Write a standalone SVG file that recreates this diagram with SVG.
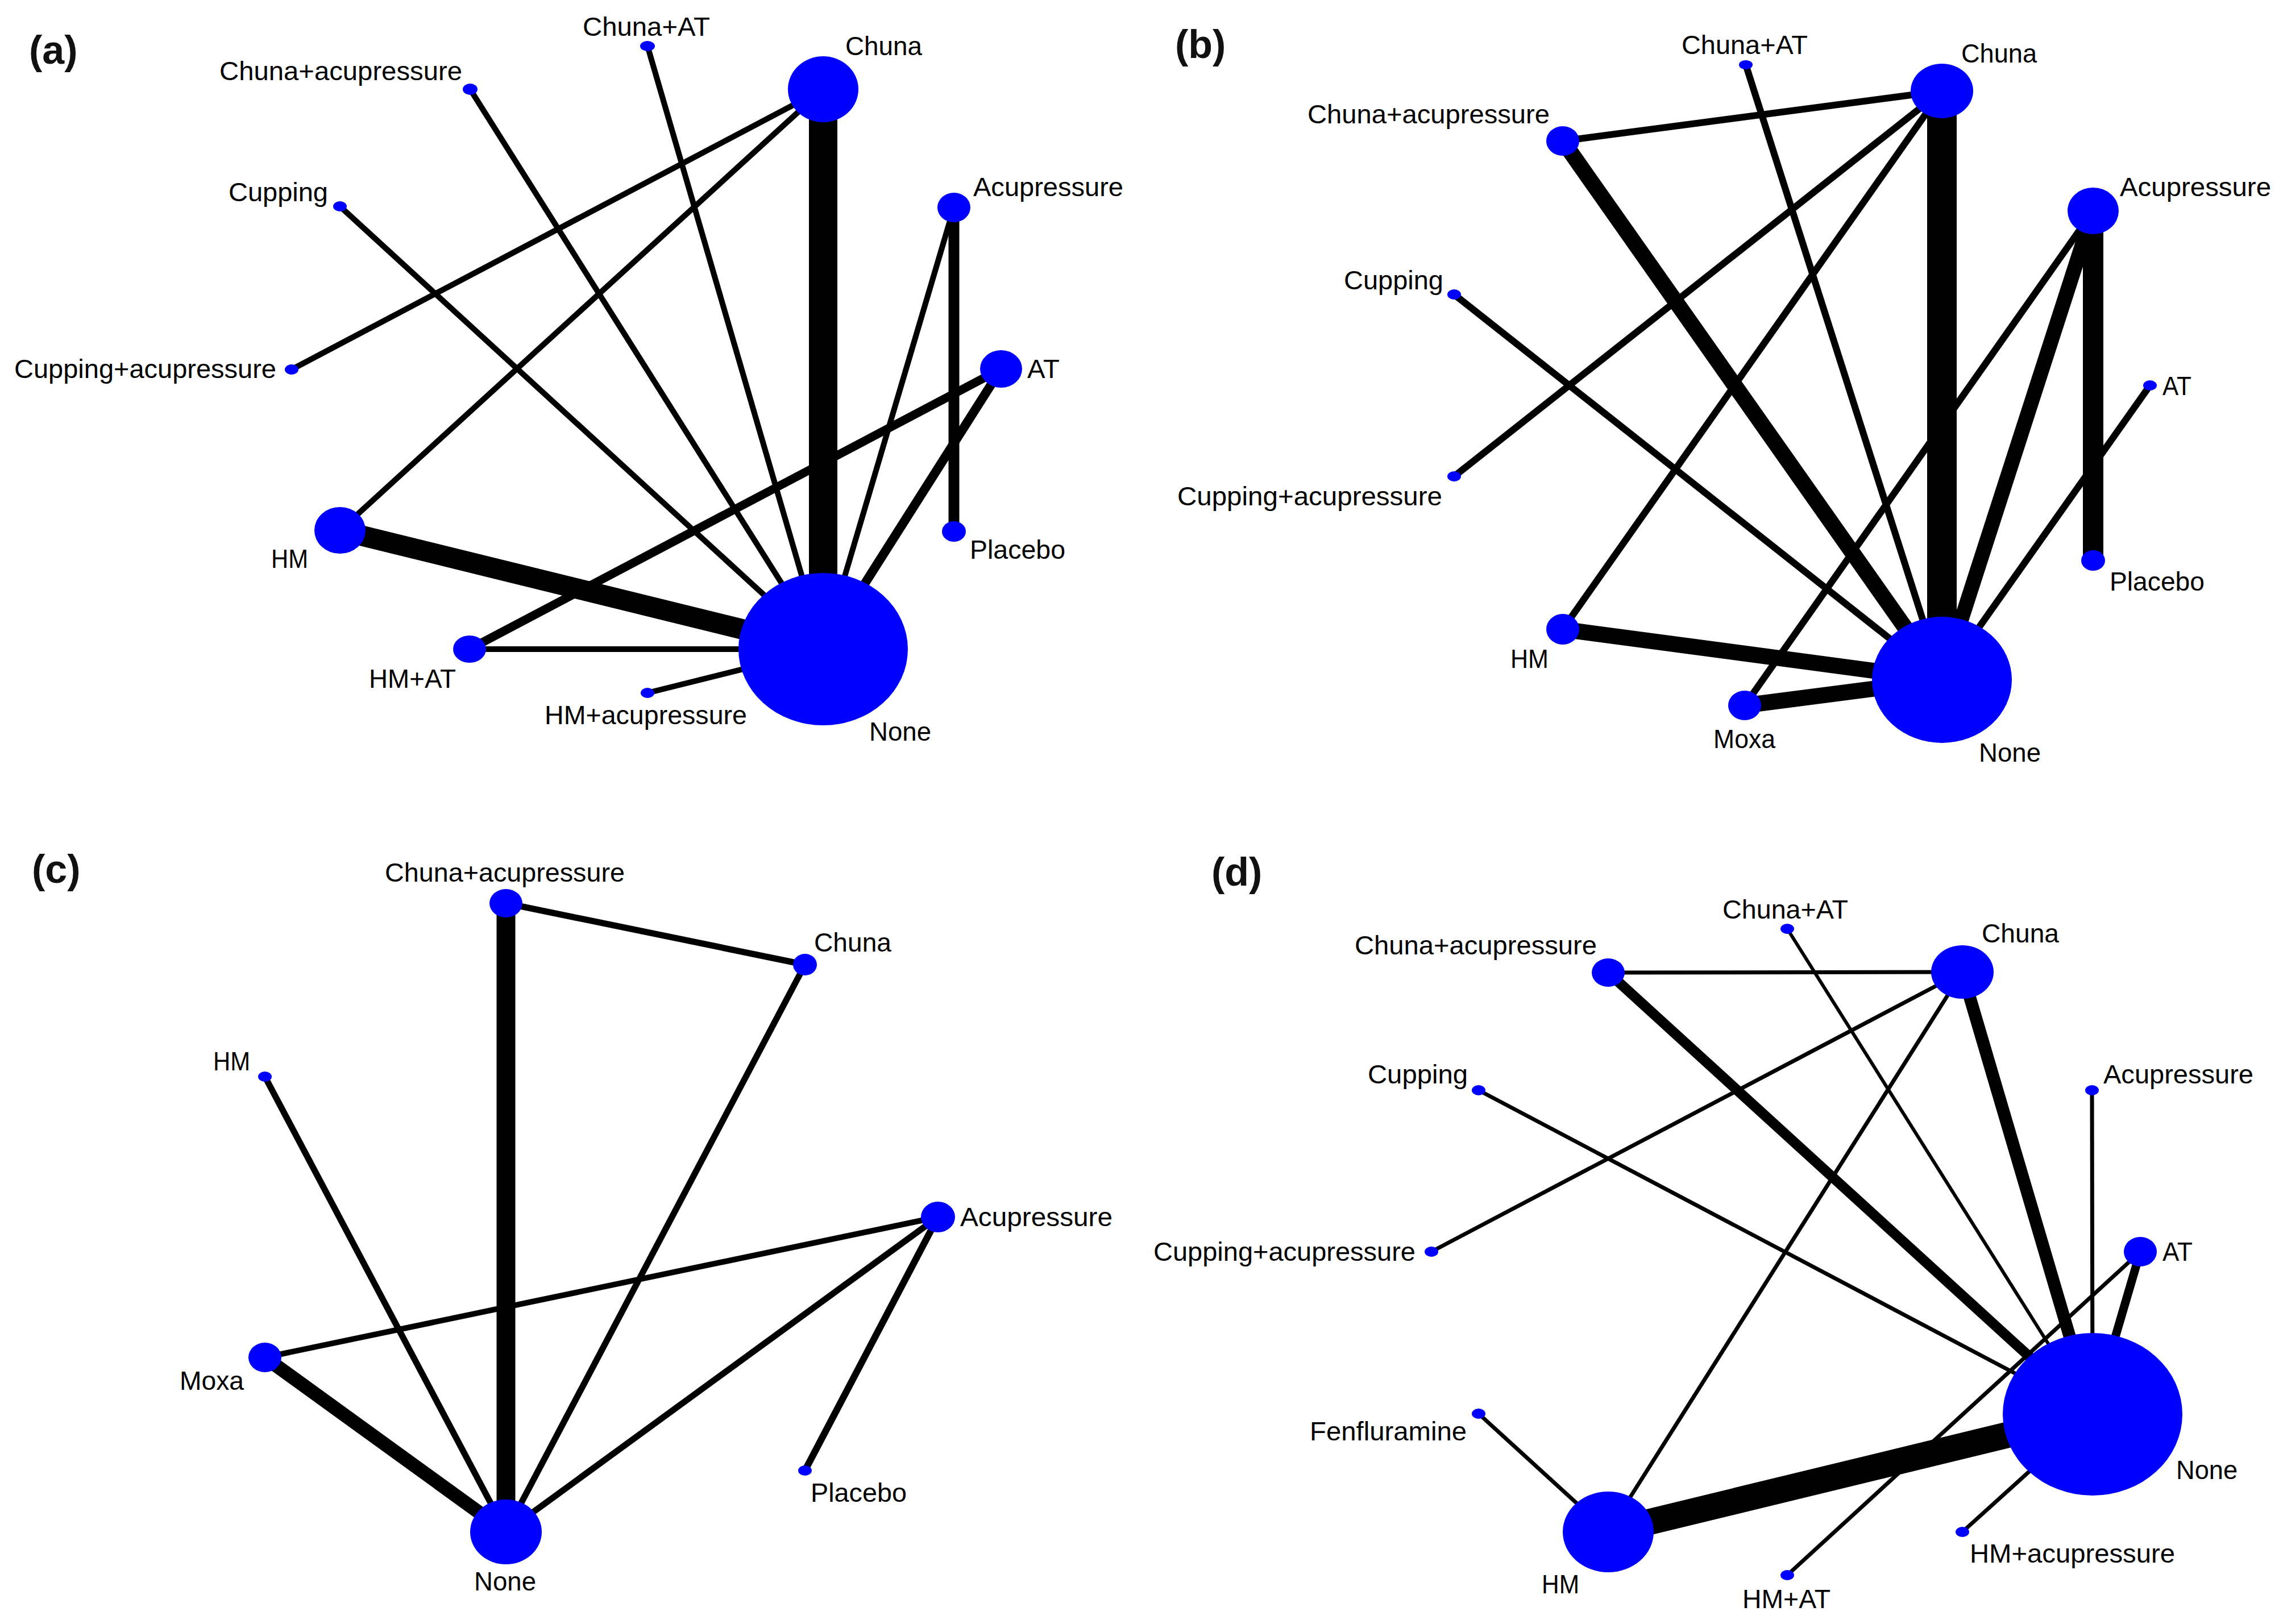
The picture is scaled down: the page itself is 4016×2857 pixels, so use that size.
<svg xmlns="http://www.w3.org/2000/svg" width="4016" height="2857" viewBox="0 0 4016 2857">
<style>
.bg{fill:#fff}
.n{fill:#0000ff}
.e{stroke:#000;fill:none;stroke-linecap:butt}
.t{font-family:"Liberation Sans",Arial,sans-serif;font-size:46px;fill:#000}
.p{font-family:"Liberation Sans",Arial,sans-serif;font-size:70px;font-weight:bold;fill:#111}
</style>
<rect class="bg" x="0" y="0" width="4016" height="2857"/>

<!-- Panel (a) -->
<g id="panel-a">
<text class="p" x="51" y="112">(a)</text>
<g id="a-edges">
<line class="e" x1="1448" y1="157" x2="1448" y2="1142" stroke-width="50"/>
<line class="e" x1="598" y1="933" x2="1448" y2="1142" stroke-width="36"/>
<line class="e" x1="598" y1="933" x2="1448" y2="157" stroke-width="10"/>
<line class="e" x1="513" y1="650" x2="1448" y2="157" stroke-width="10"/>
<line class="e" x1="827" y1="157" x2="1448" y2="1142" stroke-width="10"/>
<line class="e" x1="1139" y1="81" x2="1448" y2="1142" stroke-width="10"/>
<line class="e" x1="598" y1="363" x2="1448" y2="1142" stroke-width="10"/>
<line class="e" x1="1678" y1="365" x2="1448" y2="1142" stroke-width="10"/>
<line class="e" x1="1678" y1="365" x2="1678" y2="935" stroke-width="19"/>
<line class="e" x1="1761" y1="649" x2="1448" y2="1142" stroke-width="16"/>
<line class="e" x1="826" y1="1142" x2="1761" y2="649" stroke-width="15"/>
<line class="e" x1="826" y1="1142" x2="1448" y2="1142" stroke-width="10"/>
<line class="e" x1="1139" y1="1219" x2="1448" y2="1142" stroke-width="10"/>
</g>
<g id="a-chuna-at"><ellipse class="n" cx="1139" cy="81" rx="13" ry="9"/><text class="t" x="1025" y="63" textLength="224" lengthAdjust="spacingAndGlyphs">Chuna+AT</text></g>
<g id="a-chuna"><ellipse class="n" cx="1448" cy="157" rx="62" ry="58"/><text class="t" x="1487" y="97" textLength="135" lengthAdjust="spacingAndGlyphs">Chuna</text></g>
<g id="a-chuna-acupressure"><ellipse class="n" cx="827" cy="157" rx="13" ry="10"/><text class="t" x="386" y="141" textLength="427" lengthAdjust="spacingAndGlyphs">Chuna+acupressure</text></g>
<g id="a-cupping"><ellipse class="n" cx="598" cy="363" rx="12" ry="9"/><text class="t" x="402" y="354" textLength="175" lengthAdjust="spacingAndGlyphs">Cupping</text></g>
<g id="a-cupping-acupressure"><ellipse class="n" cx="513" cy="650" rx="12" ry="9"/><text class="t" x="25" y="665" textLength="461" lengthAdjust="spacingAndGlyphs">Cupping+acupressure</text></g>
<g id="a-hm"><ellipse class="n" cx="598" cy="933" rx="45" ry="41"/><text class="t" x="477" y="999" textLength="65" lengthAdjust="spacingAndGlyphs">HM</text></g>
<g id="a-hm-at"><ellipse class="n" cx="826" cy="1142" rx="29" ry="24"/><text class="t" x="649" y="1210" textLength="153" lengthAdjust="spacingAndGlyphs">HM+AT</text></g>
<g id="a-hm-acupressure"><ellipse class="n" cx="1139" cy="1219" rx="12" ry="9"/><text class="t" x="958" y="1274" textLength="356" lengthAdjust="spacingAndGlyphs">HM+acupressure</text></g>
<g id="a-none"><ellipse class="n" cx="1448" cy="1142" rx="149" ry="134"/><text class="t" x="1529" y="1303" textLength="109" lengthAdjust="spacingAndGlyphs">None</text></g>
<g id="a-acupressure"><ellipse class="n" cx="1678" cy="365" rx="29" ry="26"/><text class="t" x="1712" y="345" textLength="264" lengthAdjust="spacingAndGlyphs">Acupressure</text></g>
<g id="a-at"><ellipse class="n" cx="1761" cy="649" rx="37" ry="33"/><text class="t" x="1807" y="665" textLength="57" lengthAdjust="spacingAndGlyphs">AT</text></g>
<g id="a-placebo"><ellipse class="n" cx="1678" cy="935" rx="21" ry="18"/><text class="t" x="1706" y="983" textLength="168" lengthAdjust="spacingAndGlyphs">Placebo</text></g>
</g>

<!-- Panel (b) -->
<g id="panel-b">
<text class="p" x="2067" y="102">(b)</text>
<g id="b-edges">
<line class="e" x1="3416" y1="160" x2="3416" y2="1196" stroke-width="52"/>
<line class="e" x1="2749" y1="248" x2="3416" y2="1196" stroke-width="28"/>
<line class="e" x1="2749" y1="248" x2="3416" y2="160" stroke-width="12"/>
<line class="e" x1="2558" y1="838" x2="3416" y2="160" stroke-width="12"/>
<line class="e" x1="2749" y1="1107" x2="3416" y2="160" stroke-width="12"/>
<line class="e" x1="2749" y1="1107" x2="3416" y2="1196" stroke-width="28"/>
<line class="e" x1="2558" y1="518" x2="3416" y2="1196" stroke-width="12"/>
<line class="e" x1="3071" y1="114" x2="3416" y2="1196" stroke-width="12"/>
<line class="e" x1="3682" y1="371" x2="3416" y2="1196" stroke-width="26"/>
<line class="e" x1="3682" y1="371" x2="3682" y2="986" stroke-width="36"/>
<line class="e" x1="3682" y1="371" x2="3069" y2="1241" stroke-width="12"/>
<line class="e" x1="3782" y1="678" x2="3416" y2="1196" stroke-width="12"/>
<line class="e" x1="3069" y1="1241" x2="3416" y2="1196" stroke-width="28"/>
</g>
<g id="b-chuna-acupressure"><ellipse class="n" cx="2749" cy="248" rx="29" ry="26"/><text class="t" x="2300" y="217" textLength="426" lengthAdjust="spacingAndGlyphs">Chuna+acupressure</text></g>
<g id="b-cupping"><ellipse class="n" cx="2558" cy="518" rx="12" ry="9"/><text class="t" x="2364" y="509" textLength="175" lengthAdjust="spacingAndGlyphs">Cupping</text></g>
<g id="b-cupping-acupressure"><ellipse class="n" cx="2558" cy="838" rx="12" ry="9"/><text class="t" x="2071" y="889" textLength="466" lengthAdjust="spacingAndGlyphs">Cupping+acupressure</text></g>
<g id="b-hm"><ellipse class="n" cx="2749" cy="1107" rx="29" ry="27"/><text class="t" x="2657" y="1175" textLength="67" lengthAdjust="spacingAndGlyphs">HM</text></g>
<g id="b-chuna-at"><ellipse class="n" cx="3071" cy="114" rx="12" ry="8"/><text class="t" x="2958" y="95" textLength="222" lengthAdjust="spacingAndGlyphs">Chuna+AT</text></g>
<g id="b-chuna"><ellipse class="n" cx="3416" cy="160" rx="55" ry="48"/><text class="t" x="3450" y="110" textLength="133" lengthAdjust="spacingAndGlyphs">Chuna</text></g>
<g id="b-acupressure"><ellipse class="n" cx="3682" cy="371" rx="45" ry="41"/><text class="t" x="3729" y="345" textLength="266" lengthAdjust="spacingAndGlyphs">Acupressure</text></g>
<g id="b-at"><ellipse class="n" cx="3782" cy="678" rx="12" ry="9"/><text class="t" x="3804" y="695" textLength="51" lengthAdjust="spacingAndGlyphs">AT</text></g>
<g id="b-placebo"><ellipse class="n" cx="3682" cy="986" rx="21" ry="18"/><text class="t" x="3711" y="1039" textLength="167" lengthAdjust="spacingAndGlyphs">Placebo</text></g>
<g id="b-moxa"><ellipse class="n" cx="3069" cy="1241" rx="29" ry="26"/><text class="t" x="3014" y="1316" textLength="109" lengthAdjust="spacingAndGlyphs">Moxa</text></g>
<g id="b-none"><ellipse class="n" cx="3416" cy="1196" rx="123" ry="111"/><text class="t" x="3481" y="1340" textLength="109" lengthAdjust="spacingAndGlyphs">None</text></g>
</g>

<!-- Panel (c) -->
<g id="panel-c">
<text class="p" x="56" y="1553">(c)</text>
<g id="c-edges">
<line class="e" x1="890" y1="1589" x2="890" y2="2695" stroke-width="33"/>
<line class="e" x1="890" y1="1589" x2="1416" y2="1697" stroke-width="11"/>
<line class="e" x1="1416" y1="1697" x2="890" y2="2695" stroke-width="11"/>
<line class="e" x1="466" y1="1894" x2="890" y2="2695" stroke-width="11"/>
<line class="e" x1="466" y1="2388" x2="1650" y2="2141" stroke-width="10"/>
<line class="e" x1="466" y1="2388" x2="890" y2="2695" stroke-width="24"/>
<line class="e" x1="1650" y1="2141" x2="890" y2="2695" stroke-width="11"/>
<line class="e" x1="1650" y1="2141" x2="1416" y2="2587" stroke-width="12"/>
</g>
<g id="c-chuna-acupressure"><ellipse class="n" cx="890" cy="1589" rx="29" ry="25"/><text class="t" x="677" y="1551" textLength="422" lengthAdjust="spacingAndGlyphs">Chuna+acupressure</text></g>
<g id="c-hm"><ellipse class="n" cx="466" cy="1894" rx="12" ry="9"/><text class="t" x="375" y="1883" textLength="65" lengthAdjust="spacingAndGlyphs">HM</text></g>
<g id="c-moxa"><ellipse class="n" cx="466" cy="2388" rx="29" ry="26"/><text class="t" x="316" y="2445" textLength="113" lengthAdjust="spacingAndGlyphs">Moxa</text></g>
<g id="c-none"><ellipse class="n" cx="890" cy="2695" rx="63" ry="57"/><text class="t" x="834" y="2798" textLength="109" lengthAdjust="spacingAndGlyphs">None</text></g>
<g id="c-chuna"><ellipse class="n" cx="1416" cy="1697" rx="21" ry="19"/><text class="t" x="1432" y="1674" textLength="136" lengthAdjust="spacingAndGlyphs">Chuna</text></g>
<g id="c-acupressure"><ellipse class="n" cx="1650" cy="2141" rx="30" ry="27"/><text class="t" x="1689" y="2157" textLength="268" lengthAdjust="spacingAndGlyphs">Acupressure</text></g>
<g id="c-placebo"><ellipse class="n" cx="1416" cy="2587" rx="12" ry="9"/><text class="t" x="1426" y="2642" textLength="169" lengthAdjust="spacingAndGlyphs">Placebo</text></g>
</g>

<!-- Panel (d) -->
<g id="panel-d">
<text class="p" x="2131" y="1558">(d)</text>
<g id="d-edges">
<line class="e" x1="2829" y1="1711" x2="3452" y2="1710" stroke-width="7"/>
<line class="e" x1="2829" y1="1711" x2="3681" y2="2488" stroke-width="18"/>
<line class="e" x1="2601" y1="1918" x2="3681" y2="2488" stroke-width="7"/>
<line class="e" x1="2518" y1="2202" x2="3452" y2="1710" stroke-width="7"/>
<line class="e" x1="2601" y1="2487" x2="2829" y2="2695" stroke-width="7"/>
<line class="e" x1="2829" y1="2695" x2="3452" y2="1710" stroke-width="7"/>
<line class="e" x1="2829" y1="2695" x2="3681" y2="2488" stroke-width="46"/>
<line class="e" x1="3144" y1="1634" x2="3681" y2="2488" stroke-width="6"/>
<line class="e" x1="3452" y1="1710" x2="3681" y2="2488" stroke-width="22"/>
<line class="e" x1="3680" y1="1918" x2="3681" y2="2488" stroke-width="7"/>
<line class="e" x1="3765" y1="2202" x2="3681" y2="2488" stroke-width="15"/>
<line class="e" x1="3144" y1="2771" x2="3765" y2="2202" stroke-width="7"/>
<line class="e" x1="3452" y1="2695" x2="3681" y2="2488" stroke-width="7"/>
</g>
<g id="d-chuna-acupressure"><ellipse class="n" cx="2829" cy="1711" rx="29" ry="25"/><text class="t" x="2383" y="1679" textLength="426" lengthAdjust="spacingAndGlyphs">Chuna+acupressure</text></g>
<g id="d-cupping"><ellipse class="n" cx="2601" cy="1918" rx="12" ry="9"/><text class="t" x="2406" y="1906" textLength="176" lengthAdjust="spacingAndGlyphs">Cupping</text></g>
<g id="d-cupping-acupressure"><ellipse class="n" cx="2518" cy="2202" rx="12" ry="9"/><text class="t" x="2029" y="2218" textLength="461" lengthAdjust="spacingAndGlyphs">Cupping+acupressure</text></g>
<g id="d-fenfluramine"><ellipse class="n" cx="2601" cy="2487" rx="12" ry="9"/><text class="t" x="2304" y="2534" textLength="276" lengthAdjust="spacingAndGlyphs">Fenfluramine</text></g>
<g id="d-hm"><ellipse class="n" cx="2829" cy="2695" rx="80" ry="71"/><text class="t" x="2712" y="2803" textLength="66" lengthAdjust="spacingAndGlyphs">HM</text></g>
<g id="d-chuna-at"><ellipse class="n" cx="3144" cy="1634" rx="12" ry="9"/><text class="t" x="3030" y="1616" textLength="221" lengthAdjust="spacingAndGlyphs">Chuna+AT</text></g>
<g id="d-chuna"><ellipse class="n" cx="3452" cy="1710" rx="55" ry="47"/><text class="t" x="3486" y="1658" textLength="136" lengthAdjust="spacingAndGlyphs">Chuna</text></g>
<g id="d-acupressure"><ellipse class="n" cx="3680" cy="1918" rx="12" ry="9"/><text class="t" x="3700" y="1906" textLength="264" lengthAdjust="spacingAndGlyphs">Acupressure</text></g>
<g id="d-at"><ellipse class="n" cx="3765" cy="2202" rx="29" ry="26"/><text class="t" x="3804" y="2218" textLength="53" lengthAdjust="spacingAndGlyphs">AT</text></g>
<g id="d-none"><ellipse class="n" cx="3681" cy="2488" rx="158" ry="143"/><text class="t" x="3828" y="2602" textLength="108" lengthAdjust="spacingAndGlyphs">None</text></g>
<g id="d-hm-acupressure"><ellipse class="n" cx="3452" cy="2695" rx="12" ry="9"/><text class="t" x="3465" y="2749" textLength="361" lengthAdjust="spacingAndGlyphs">HM+acupressure</text></g>
<g id="d-hm-at"><ellipse class="n" cx="3144" cy="2771" rx="12" ry="9"/><text class="t" x="3065" y="2829" textLength="155" lengthAdjust="spacingAndGlyphs">HM+AT</text></g>
</g>
</svg>
